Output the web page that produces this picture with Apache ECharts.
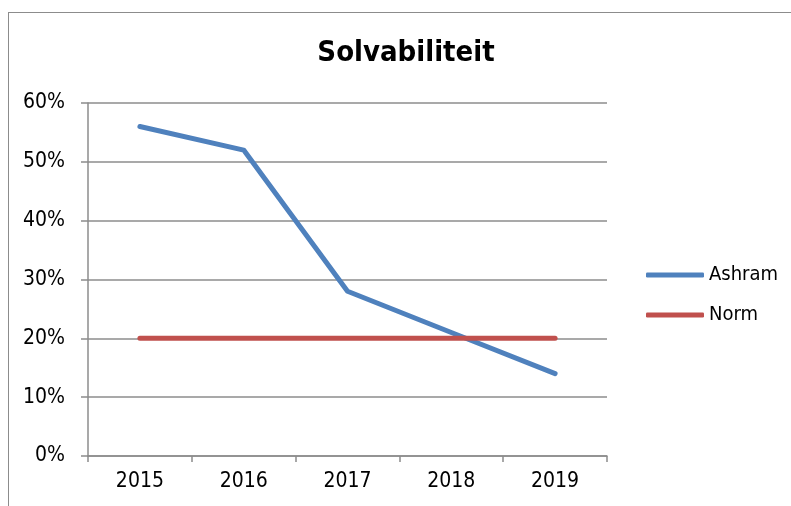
<!DOCTYPE html>
<html>
<head>
<meta charset="utf-8">
<script src="https://cdn.jsdelivr.net/npm/echarts@6/dist/echarts.min.js"></script>
<style>
  html, body { margin: 0; padding: 0; background: #fff; }
  #frame { position: absolute; left: 8px; top: 12px; width: 800px; height: 520px; border: 1.5px solid #8c8c8c; box-sizing: border-box; }
  #chart { position: absolute; left: 0; top: 0; width: 791px; height: 506px; }
</style>
</head>
<body>
<div id="frame"></div>
<div id="chart"></div>
<script>
  const years = ['2015', '2016', '2017', '2018', '2019'];
  const ashram = [0.56, 0.52, 0.28, 0.21, 0.14];
  const norm = [0.20, 0.20, 0.20, 0.20, 0.20];

  const font = '"DejaVu Sans Condensed", "DejaVu Sans", sans-serif';
  const gridColor = '#8c8c8c';

  const chart = echarts.init(document.getElementById('chart'), null, { renderer: 'canvas' });
  chart.setOption({
    animation: false,
    title: {
      text: 'Solvabiliteit',
      left: 401,
      top: 34,
      textAlign: 'center',
      textStyle: { fontFamily: font, fontSize: 29, fontWeight: 'bold', color: '#000' }
    },
    legend: {
      orient: 'vertical',
      left: 646,
      top: 265,
      padding: 0,
      itemWidth: 58,
      itemHeight: 5,
      itemGap: 20,
      textStyle: { fontFamily: font, fontSize: 20, lineHeight: 20, color: '#000' },
      data: [
        { name: 'Ashram', icon: 'roundRect' },
        { name: 'Norm', icon: 'roundRect' }
      ]
    },
    grid: { left: 88, right: 184, top: 103, bottom: 50 },
    xAxis: {
      type: 'category',
      data: years,
      boundaryGap: true,
      axisLine: { lineStyle: { color: gridColor, width: 1.5 } },
      axisTick: { show: true, length: 6, lineStyle: { color: gridColor, width: 1.5 } },
      axisLabel: { fontFamily: font, fontSize: 21, color: '#000', margin: 15 }
    },
    yAxis: {
      type: 'value',
      min: 0,
      max: 0.6,
      interval: 0.1,
      axisLine: { show: true, lineStyle: { color: gridColor, width: 1.5 } },
      axisTick: { show: true, length: 7, lineStyle: { color: gridColor, width: 1.5 } },
      splitLine: { lineStyle: { color: gridColor, width: 1.5 } },
      axisLabel: {
        fontFamily: font, fontSize: 21, color: '#000', margin: 23,
        formatter: v => Math.round(v * 100) + '%'
      }
    },
    series: [
      {
        name: 'Ashram', type: 'line', data: ashram,
        symbol: 'none', color: '#4f81bd',
        lineStyle: { width: 5, cap: 'round', join: 'round' }
      },
      {
        name: 'Norm', type: 'line', data: norm,
        symbol: 'none', color: '#c0504d',
        lineStyle: { width: 5, cap: 'round', join: 'round' }
      }
    ]
  });
</script>
</body>
</html>
